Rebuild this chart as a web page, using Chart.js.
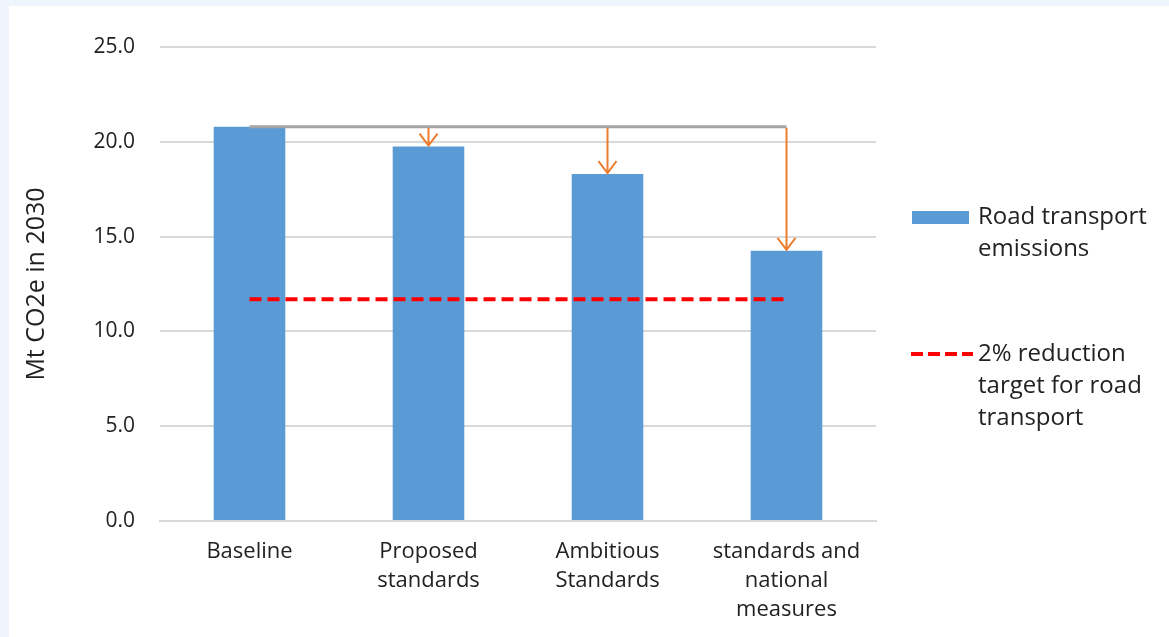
<!DOCTYPE html>
<html>
<head>
<meta charset="utf-8">
<script src="https://cdn.jsdelivr.net/npm/chart.js@4/dist/chart.umd.min.js"></script>
<style>
    html, body { margin: 0; padding: 0; background: #eef5fd; width: 1169px; height: 637px; overflow: hidden; }
    #panel { position: absolute; left: 9px; top: 6px; width: 1160px; height: 631px; background: #ffffff; }
    #chart { display: block; }
</style>
</head>
<body>
<div id="panel"><canvas id="chart" width="1160" height="631"></canvas></div>
<script>
// chart data
const categories = [
    'Baseline',
    ['Proposed', 'standards'],
    ['Ambitious', 'Standards'],
    ['standards and', 'national', 'measures']
];
const emissions = [20.8, 19.75, 18.3, 14.25];
const targetValue = 11.7;
const yTicks = [0, 5, 10, 15, 20, 25];

const barLabel = ['Road transport', 'emissions'];
const targetLabel = ['2% reduction', 'target for road', 'transport'];

const barColor = '#5b9bd5';
const targetColor = '#ff0000';
const baselineColor = '#a5a5a5';
const arrowColor = '#ed7d31';
const textColor = '#222222';
const font = "'Open Sans', sans-serif";

const baselineRow = emissions.map(() => emissions[0]);
const targetRow = emissions.map(() => targetValue);

// arrows from the baseline level down to each scenario bar
const arrowPlugin = {
    id: 'arrows',
    afterDatasetsDraw(chart) {
        const ctx = chart.ctx;
        const x = chart.scales.x;
        const y = chart.scales.y;
        const yTop = y.getPixelForValue(emissions[0]);
        ctx.save();
        ctx.strokeStyle = arrowColor;
        ctx.lineWidth = 2;
        for (let i = 1; i < emissions.length; i++) {
            const px = x.getPixelForValue(i);
            const yTip = y.getPixelForValue(emissions[i]);
            ctx.beginPath();
            ctx.moveTo(px, yTop + 1);
            ctx.lineTo(px, yTip - 1);
            ctx.moveTo(px - 9, yTip - 13);
            ctx.lineTo(px, yTip - 1);
            ctx.lineTo(px + 9, yTip - 13);
            ctx.stroke();
        }
        ctx.restore();
    }
};

// legend on the right, with wrapped labels
const legendPlugin = {
    id: 'sideLegend',
    afterDraw(chart) {
        const ctx = chart.ctx;
        const left = chart.chartArea.right + 36;
        const textX = left + 66;
        ctx.save();
        ctx.font = "24px " + font;
        ctx.textBaseline = 'middle';

        ctx.fillStyle = barColor;
        ctx.fillRect(left, 205, 57, 13);
        ctx.fillStyle = textColor;
        barLabel.forEach((t, i) => ctx.fillText(t, textX, 211 + i * 32));

        ctx.strokeStyle = targetColor;
        ctx.lineWidth = 4;
        ctx.setLineDash([12, 5]);
        ctx.beginPath();
        ctx.moveTo(left - 1, 348);
        ctx.lineTo(left + 61, 348);
        ctx.stroke();
        ctx.setLineDash([]);
        targetLabel.forEach((t, i) => ctx.fillText(t, textX, 348 + i * 32));
        ctx.restore();
    }
};

new Chart(document.getElementById('chart'), {
    type: 'bar',
    data: {
        labels: categories,
        datasets: [
            {
                type: 'line',
                label: 'Baseline level',
                data: baselineRow,
                borderColor: baselineColor,
                borderWidth: 3,
                pointRadius: 0,
                order: 1
            },
            {
                type: 'line',
                label: targetLabel.join(' '),
                data: targetRow,
                borderColor: targetColor,
                borderWidth: 4,
                borderDash: [12, 6],
                pointRadius: 0,
                order: 2
            },
            {
                label: barLabel.join(' '),
                data: emissions,
                backgroundColor: barColor,
                barPercentage: 0.8,
                categoryPercentage: 0.5,
                order: 3
            }
        ]
    },
    options: {
        responsive: false,
        animation: false,
        layout: {
            padding: { top: 41, right: 293, bottom: 5, left: 13 }
        },
        plugins: {
            legend: { display: false },
            tooltip: { enabled: false }
        },
        scales: {
            x: {
                grid: { display: false },
                border: { color: '#d9d9d9', width: 2 },
                ticks: {
                    color: textColor,
                    font: { family: font, size: 22, lineHeight: 29 / 22 },
                    padding: 8,
                    maxRotation: 0,
                    autoSkip: false
                }
            },
            y: {
                min: 0,
                max: 25,
                afterBuildTicks(scale) {
                    scale.ticks = yTicks.map(v => ({ value: v }));
                },
                afterFit(scale) {
                    scale.width = 138;
                },
                grid: { color: '#d9d9d9', lineWidth: 2, drawTicks: false },
                border: { display: false },
                ticks: {
                    color: textColor,
                    font: { family: font, size: 21 },
                    padding: 25,
                    callback: v => v.toFixed(1)
                },
                title: {
                    display: true,
                    text: 'Mt CO2e in 2030',
                    color: textColor,
                    font: { family: font, size: 25 },
                    padding: { top: 0, bottom: 0 }
                }
            }
        }
    },
    plugins: [arrowPlugin, legendPlugin]
});
</script>
</body>
</html>
